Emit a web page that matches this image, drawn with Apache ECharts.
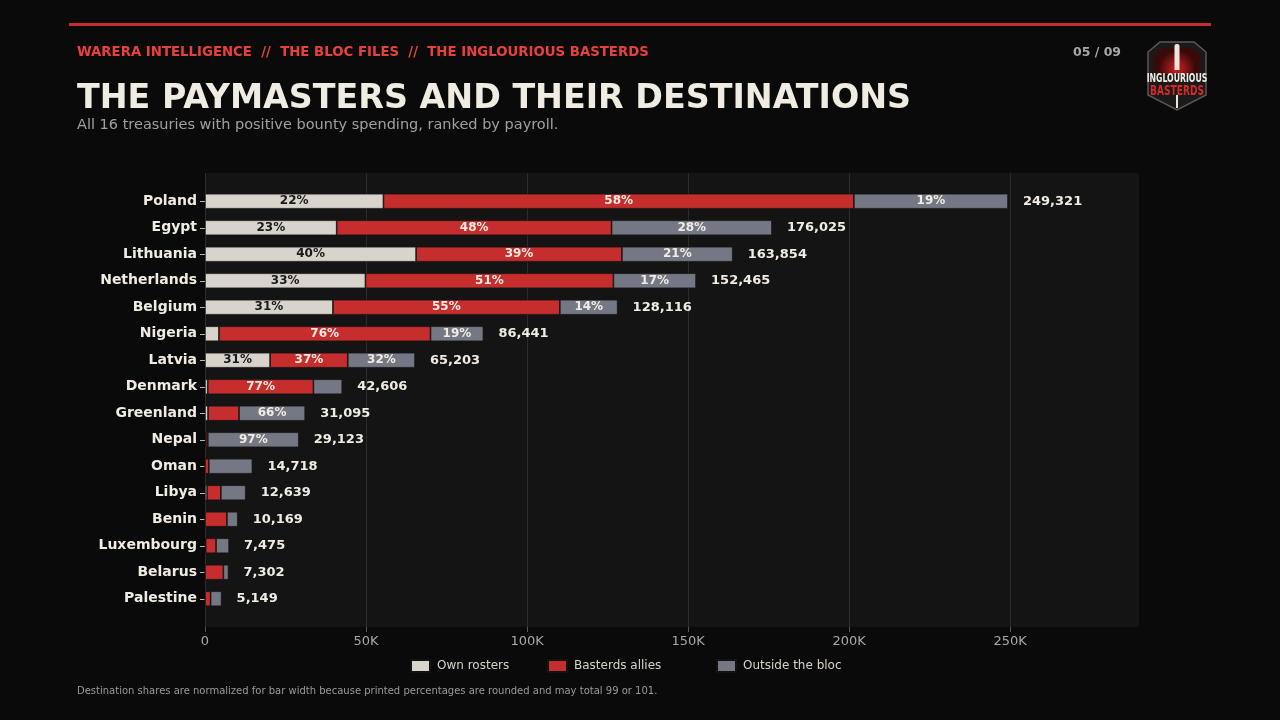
<!DOCTYPE html>
<html>
<head>
<meta charset="utf-8">
<script src="https://cdn.jsdelivr.net/npm/echarts@6/dist/echarts.min.js"></script>
<style>
  html, body { margin: 0; padding: 0; background: #0a0a0a; }
  #main { width: 1280px; height: 720px; }
</style>
</head>
<body>
<div id="main"></div>
<script>
// countries ranked by payroll
const countries = ["Poland","Egypt","Lithuania","Netherlands","Belgium","Nigeria","Latvia","Denmark",
  "Greenland","Nepal","Oman","Libya","Benin","Luxembourg","Belarus","Palestine"];
const totals = [249321,176025,163854,152465,128116,86441,65203,42606,31095,29123,14718,12639,10169,7475,7302,5149];
// shares in percent (printed where readable, estimated from bar widths otherwise)
const ownPct =     [22,23,40,33,31, 5,31, 2, 3, 1, 0, 5, 0, 3, 0, 0];
const alliesPct =  [58,48,39,51,55,76,37,77,31, 2, 8,34,67,43,78,34];
const outsidePct = [19,28,21,17,14,19,32,21,66,97,92,61,33,54,22,66];
const xTickValues = [0,50000,100000,150000,200000,250000];
const xTickLabels = ["0","50K","100K","150K","200K","250K"];

const seriesNames = ["Own rosters","Basterds allies","Outside the bloc"];
const colors = ["#d8d3cb","#c62d2d","#737884"];
const pcts = [ownPct, alliesPct, outsidePct];
const FONT = "DejaVu Sans";

// segment values: normalize shares so the bar adds up to the total
function segValues(k) {
  return totals.map((t, i) => {
    const s = ownPct[i] + alliesPct[i] + outsidePct[i];
    return t * pcts[k][i] / s;
  });
}

let myChart = echarts.init(document.getElementById('main'));

const stackSeries = seriesNames.map((name, k) => ({
  name: name,
  type: 'bar',
  stack: 'pay',
  xAxisIndex: 1,
  yAxisIndex: 1,
  barWidth: 15,
  itemStyle: { color: colors[k], borderColor: '#121212', borderWidth: 0.7 },
  label: {
    show: true,
    position: 'inside',
    fontFamily: FONT,
    fontWeight: 'bold',
    fontSize: 12,
    color: k === 0 ? '#1a1a1a' : '#f1ece2',
    formatter: p => p.value >= 15000 ? pcts[k][p.dataIndex] + '%' : ''
  },
  data: segValues(k)
}));

const totalSeries = {
  name: 'total',
  type: 'bar',
  xAxisIndex: 1,
  yAxisIndex: 1,
  barWidth: 15,
  barGap: '-100%',
  z: 1,
  silent: true,
  itemStyle: { color: 'rgba(0,0,0,0)' },
  label: {
    show: true,
    position: 'right',
    distance: 15,
    fontFamily: FONT,
    fontWeight: 'bold',
    fontSize: 13,
    color: '#f1ece2',
    formatter: p => p.value.toLocaleString('en-US')
  },
  data: totals
};

// one legend per item so the spacing can follow the reference
const legendLefts = [410, 547, 716];
const legends = seriesNames.map((n, k) => ({
  data: [n],
  left: legendLefts[k],
  top: 659,
  padding: 0,
  itemWidth: 19,
  itemHeight: 12,
  icon: 'rect',
  selectedMode: false,
  textStyle: { color: '#d8d3cb', fontSize: 12, fontFamily: FONT, padding: [0, 0, 0, 2] }
}));

var option = {
  backgroundColor: '#0a0a0a',
  animation: false,
  textStyle: { fontFamily: FONT },
  graphic: [
    { type: 'rect', shape: { x: 69, y: 23, width: 1142, height: 3 }, style: { fill: '#c62d2d' } },
    { type: 'text', left: 77, top: 46, style: { text: 'WARERA INTELLIGENCE  //  THE BLOC FILES  //  THE INGLOURIOUS BASTERDS',
        fill: '#e8413c', font: 'bold 13.3px "DejaVu Sans"' } },
    { type: 'text', left: 1073, top: 46, style: { text: '05 / 09', fill: '#a8a8a8', font: 'bold 12.5px "DejaVu Sans"' } },
    { type: 'text', left: 77, top: 83, style: { text: 'THE PAYMASTERS AND THEIR DESTINATIONS',
        fill: '#f1ece2', font: 'bold 33.3px "DejaVu Sans"' } },
    { type: 'text', left: 77, top: 118, style: { text: 'All 16 treasuries with positive bounty spending, ranked by payroll.',
        fill: '#a0a0a0', font: '14.5px "DejaVu Sans"' } },
    // badge
    { type: 'polygon', shape: { points: [[1160,42],[1194,42],[1206,52],[1206,95],[1177,110],[1148,95],[1148,52]] },
      style: { fill: '#1c1919', stroke: '#5e5656', lineWidth: 1.5 } },
    { type: 'polygon', shape: { points: [[1162,48],[1192,48],[1200,55],[1200,74],[1154,74],[1154,55]] },
      style: { fill: new echarts.graphic.RadialGradient(0.5, 0.8, 0.7, [
        { offset: 0, color: '#d42020' }, { offset: 1, color: '#3a0a0a' }]) } },
    { type: 'rect', shape: { x: 1174.5, y: 44, width: 5, height: 26, r: [2, 2, 0, 0] }, style: { fill: '#ebe5db' } },
    { type: 'rect', shape: { x: 1176, y: 95, width: 2, height: 13 }, style: { fill: '#ebe5db' } },
    { type: 'text', x: 1177, y: 79, scaleX: 0.72,
      style: { text: 'INGLOURIOUS', fill: '#f1ece2', font: 'bold 12px "DejaVu Sans Condensed"',
        align: 'center', verticalAlign: 'middle' } },
    { type: 'text', x: 1177, y: 91, scaleX: 0.72,
      style: { text: 'BASTERDS', fill: '#d42a2a', font: 'bold 14px "DejaVu Sans Condensed"',
        align: 'center', verticalAlign: 'middle' } },
    { type: 'text', left: 77, top: 686, style: { text: 'Destination shares are normalized for bar width because printed percentages are rounded and may total 99 or 101.',
        fill: '#9a9a9a', font: '10px "DejaVu Sans"' } }
  ],
  legend: legends,
  grid: [
    { left: 205, right: 141, top: 173, bottom: 93, show: true, backgroundColor: '#141414', borderWidth: 0 },
    { left: 205, right: 141, top: 188, bottom: 108 }
  ],
  xAxis: [
    {
      gridIndex: 0, type: 'value', min: 0, max: 290000, interval: 50000,
      axisLine: { show: false },
      axisTick: { show: true, length: 5, customValues: xTickValues, lineStyle: { color: '#555' } },
      splitLine: { show: true, lineStyle: { color: '#2c2c2c', width: 1 } },
      axisLabel: { color: '#a8a8a8', fontSize: 13, fontFamily: FONT, margin: 8,
        customValues: xTickValues,
        formatter: v => xTickLabels[xTickValues.indexOf(v)] || '' }
    },
    {
      gridIndex: 1, type: 'value', min: 0, max: 290000,
      show: false
    }
  ],
  yAxis: [
    { gridIndex: 0, type: 'value', show: false },
    {
      gridIndex: 1, type: 'category', inverse: true, data: countries,
      axisLine: { show: false },
      axisTick: { show: true, length: 5, alignWithLabel: true, lineStyle: { color: '#bbb' } },
      axisLabel: { color: '#f1ece2', fontSize: 14, fontWeight: 'bold', fontFamily: FONT, margin: 8 }
    }
  ],
  series: [...stackSeries, totalSeries]
};

myChart.setOption(option);
</script>
</body>
</html>
